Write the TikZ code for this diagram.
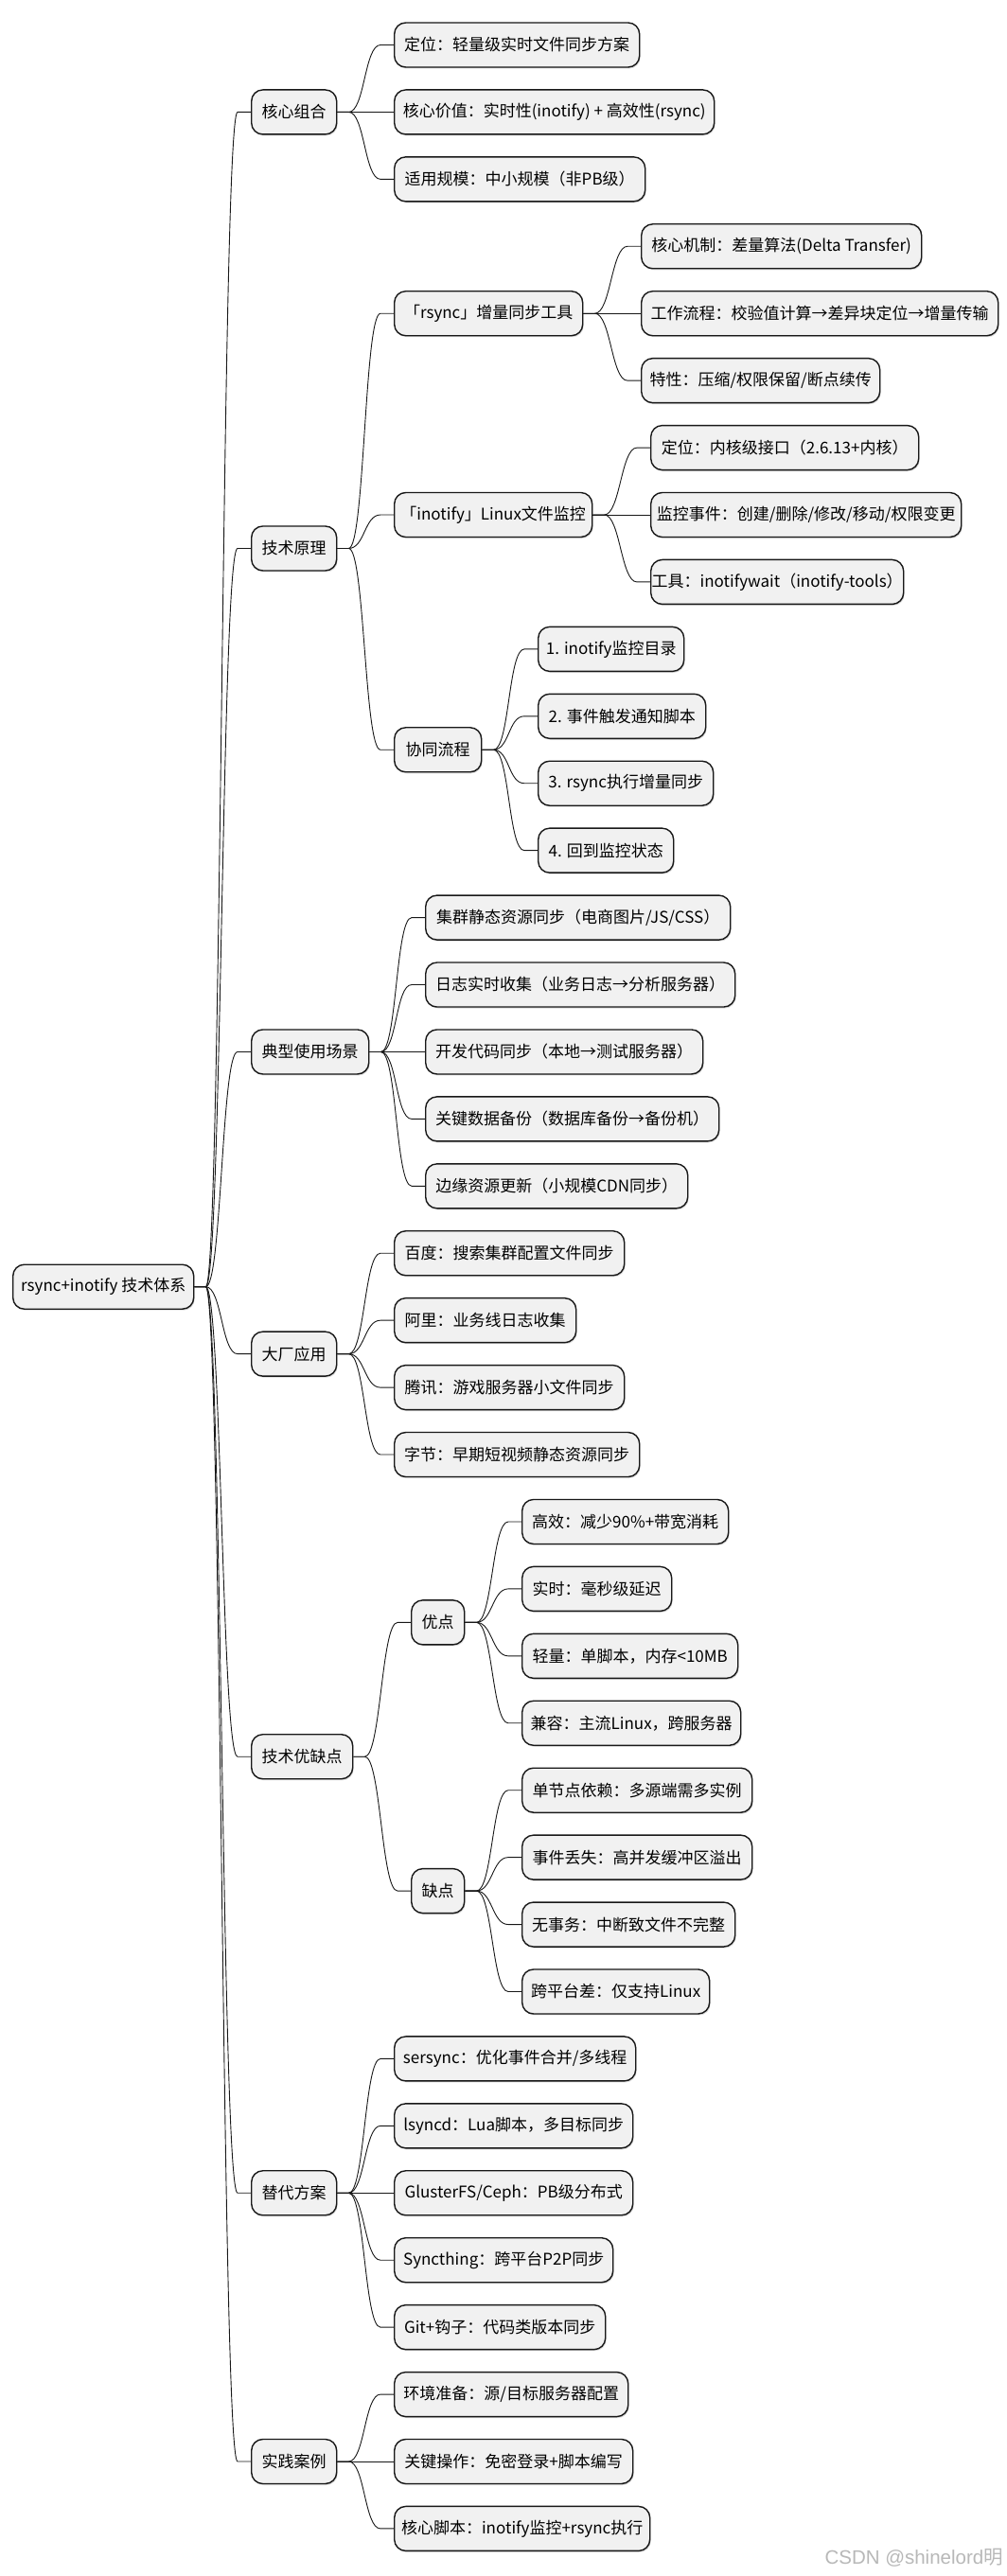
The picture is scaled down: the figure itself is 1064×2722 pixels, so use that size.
\documentclass[tikz,border=0pt]{standalone}
\usepackage{fontspec}
\setmainfont{Noto Sans CJK SC}
\newfontfamily\wmfont{Liberation Sans}
\usetikzlibrary{calc,shadows}
\definecolor{boxfill}{HTML}{F1F1F1}
\definecolor{boxline}{HTML}{181818}
\def\R#1{70.93*#1-23.43}
\newcommand\mmlink[2]{\draw[conn] (#1.east) -- ++(12,0) .. controls +(17,0) and +(-17,0) .. ($(#2.west)+(-14,0)$) -- (#2.west);}
\begin{document}
\begin{tikzpicture}[x=1pt,y=-1pt,
  box/.style={draw=boxline, fill=boxfill, line width=1.4pt, rounded corners=12pt,
    minimum height=47pt, inner xsep=0pt, inner ysep=0pt, anchor=west,
    font=\fontsize{17}{20}\selectfont, text=black,
    drop shadow={shadow xshift=1pt, shadow yshift=-1.5pt, opacity=0.3}},
  conn/.style={draw=boxline, line width=0.9pt}]
\fill[white] (0,0) rectangle (1064,2722);
\useasboundingbox (0,0) rectangle (1064,2722);
% root and level 1
\node[box, minimum width=191pt] (root) at (13,{\R{19.5}}) {rsync+inotify 技术体系};
\node[box, minimum width=90pt] (a) at (265,{\R{2}}) {核心组合};
\node[box, minimum width=90pt] (b) at (265,{\R{8.5}}) {技术原理};
\node[box, minimum width=124pt] (c) at (265,{\R{16}}) {典型使用场景};
\node[box, minimum width=90pt] (d) at (265,{\R{20.5}}) {大厂应用};
\node[box, minimum width=107pt] (e) at (265,{\R{26.5}}) {技术优缺点};
\node[box, minimum width=90pt] (f) at (265,{\R{33}}) {替代方案};
\node[box, minimum width=90pt] (g) at (265,{\R{37}}) {实践案例};
% a
\node[box, minimum width=259pt] (a1) at (416,{\R{1}}) {定位：轻量级实时文件同步方案};
\node[box, minimum width=338pt] (a2) at (416,{\R{2}}) {核心价值：实时性(inotify) + 高效性(rsync)};
\node[box, minimum width=265pt] (a3) at (416,{\R{3}}) {适用规模：中小规模（非PB级）};
% b
\node[box, minimum width=199pt] (b1) at (416,{\R{5}}) {「rsync」增量同步工具};
\node[box, minimum width=209pt] (b2) at (416,{\R{8}}) {「inotify」Linux文件监控};
\node[box, minimum width=92pt] (b3) at (416,{\R{11.5}}) {协同流程};
\node[box, minimum width=296pt] (b11) at (677,{\R{4}}) {核心机制：差量算法(Delta Transfer)};
\node[box, minimum width=377pt] (b12) at (677,{\R{5}}) {工作流程：校验值计算→差异块定位→增量传输};
\node[box, minimum width=252pt] (b13) at (677,{\R{6}}) {特性：压缩/权限保留/断点续传};
\node[box, minimum width=283pt] (b21) at (687,{\R{7}}) {定位：内核级接口（2.6.13+内核）};
\node[box, minimum width=328pt] (b22) at (687,{\R{8}}) {监控事件：创建/删除/修改/移动/权限变更};
\node[box, minimum width=267pt] (b23) at (687,{\R{9}}) {工具：inotifywait（inotify-tools）};
\node[box, minimum width=154pt] (b31) at (568,{\R{10}}) {1. inotify监控目录};
\node[box, minimum width=177pt] (b32) at (568,{\R{11}}) {2. 事件触发通知脚本};
\node[box, minimum width=185pt] (b33) at (568,{\R{12}}) {3. rsync执行增量同步};
\node[box, minimum width=143pt] (b34) at (568,{\R{13}}) {4. 回到监控状态};
% c
\node[box, minimum width=322pt] (c1) at (449,{\R{14}}) {集群静态资源同步（电商图片/JS/CSS）};
\node[box, minimum width=327pt] (c2) at (449,{\R{15}}) {日志实时收集（业务日志→分析服务器）};
\node[box, minimum width=293pt] (c3) at (449,{\R{16}}) {开发代码同步（本地→测试服务器）};
\node[box, minimum width=310pt] (c4) at (449,{\R{17}}) {关键数据备份（数据库备份→备份机）};
\node[box, minimum width=277pt] (c5) at (449,{\R{18}}) {边缘资源更新（小规模CDN同步）};
% d
\node[box, minimum width=243pt] (d1) at (416,{\R{19}}) {百度：搜索集群配置文件同步};
\node[box, minimum width=192pt] (d2) at (416,{\R{20}}) {阿里：业务线日志收集};
\node[box, minimum width=243pt] (d3) at (416,{\R{21}}) {腾讯：游戏服务器小文件同步};
\node[box, minimum width=259pt] (d4) at (416,{\R{22}}) {字节：早期短视频静态资源同步};
% e
\node[box, minimum width=56pt] (e1) at (434,{\R{24.5}}) {优点};
\node[box, minimum width=56pt] (e2) at (434,{\R{28.5}}) {缺点};
\node[box, minimum width=218pt] (e11) at (551,{\R{23}}) {高效：减少90\%+带宽消耗};
\node[box, minimum width=158pt] (e12) at (551,{\R{24}}) {实时：毫秒级延迟};
\node[box, minimum width=228pt] (e13) at (551,{\R{25}}) {轻量：单脚本，内存<10MB};
\node[box, minimum width=231pt] (e14) at (551,{\R{26}}) {兼容：主流Linux，跨服务器};
\node[box, minimum width=243pt] (e21) at (551,{\R{27}}) {单节点依赖：多源端需多实例};
\node[box, minimum width=243pt] (e22) at (551,{\R{28}}) {事件丢失：高并发缓冲区溢出};
\node[box, minimum width=225pt] (e23) at (551,{\R{29}}) {无事务：中断致文件不完整};
\node[box, minimum width=198pt] (e24) at (551,{\R{30}}) {跨平台差：仅支持Linux};
% f
\node[box, minimum width=255pt] (f1) at (416,{\R{31}}) {sersync：优化事件合并/多线程};
\node[box, minimum width=252pt] (f2) at (416,{\R{32}}) {lsyncd：Lua脚本，多目标同步};
\node[box, minimum width=252pt] (f3) at (416,{\R{33}}) {GlusterFS/Ceph：PB级分布式};
\node[box, minimum width=231pt] (f4) at (416,{\R{34}}) {Syncthing：跨平台P2P同步};
\node[box, minimum width=223pt] (f5) at (416,{\R{35}}) {Git+钩子：代码类版本同步};
% g
\node[box, minimum width=247pt] (g1) at (416,{\R{36}}) {环境准备：源/目标服务器配置};
\node[box, minimum width=252pt] (g2) at (416,{\R{37}}) {关键操作：免密登录+脚本编写};
\node[box, minimum width=270pt] (g3) at (416,{\R{38}}) {核心脚本：inotify监控+rsync执行};
% connectors
\foreach \c in {a,b,c,d,e,f,g} {\mmlink{root}{\c}}
\foreach \c in {a1,a2,a3} {\mmlink{a}{\c}}
\foreach \c in {b1,b2,b3} {\mmlink{b}{\c}}
\foreach \c in {b11,b12,b13} {\mmlink{b1}{\c}}
\foreach \c in {b21,b22,b23} {\mmlink{b2}{\c}}
\foreach \c in {b31,b32,b33,b34} {\mmlink{b3}{\c}}
\foreach \c in {c1,c2,c3,c4,c5} {\mmlink{c}{\c}}
\foreach \c in {d1,d2,d3,d4} {\mmlink{d}{\c}}
\foreach \c in {e1,e2} {\mmlink{e}{\c}}
\foreach \c in {e11,e12,e13,e14} {\mmlink{e1}{\c}}
\foreach \c in {e21,e22,e23,e24} {\mmlink{e2}{\c}}
\foreach \c in {f1,f2,f3,f4,f5} {\mmlink{f}{\c}}
\foreach \c in {g1,g2,g3} {\mmlink{g}{\c}}
% watermark
\node[anchor=east, text=black!28, font=\fontsize{20.5}{24}\selectfont, inner sep=0pt] (wm) at (1060,2703) {{\wmfont CSDN @shinelord}明};
\end{tikzpicture}
\end{document}
